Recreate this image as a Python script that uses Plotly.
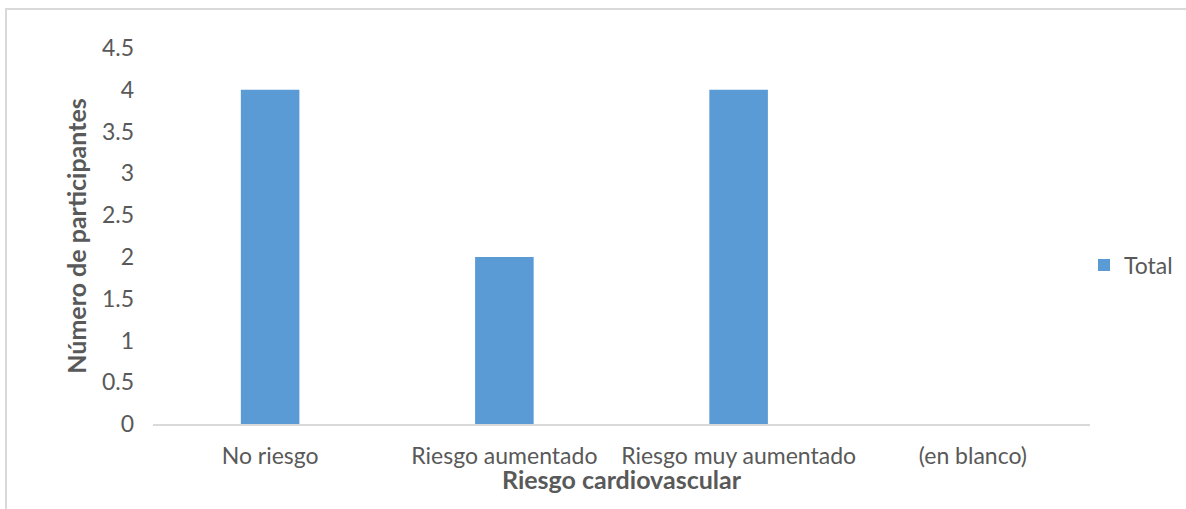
import plotly.graph_objects as go

# Participants per cardiovascular-risk category
categories = ["No riesgo", "Riesgo aumentado", "Riesgo muy aumentado", "(en blanco)"]
totals = [4, 2, 4, None]
y_ticks = [0, 0.5, 1, 1.5, 2, 2.5, 3, 3.5, 4, 4.5]
y_tick_labels = ["0", "0.5", "1", "1.5", "2", "2.5", "3", "3.5", "4", "4.5"]

W, H = 1186, 509
ML, MR, MT, MB = 153, 96, 48, 85
FONT = "Lato"
TXT = "#595959"

fig = go.Figure()
fig.add_trace(go.Bar(
    x=categories,
    y=totals,
    name="Total",
    marker=dict(color="#5B9BD5", line=dict(width=0)),
    showlegend=True,
))

pw = W - ML - MR
ph = H - MT - MB

fig.update_layout(
    width=W,
    height=H,
    margin=dict(l=ML, r=MR, t=MT, b=MB, autoexpand=False),
    paper_bgcolor="white",
    plot_bgcolor="white",
    bargap=0.75,
    font=dict(family=FONT, color=TXT, size=23),
    showlegend=True,
    legend=dict(
        x=(1084 - ML) / pw, y=(424 - 265) / ph,
        xanchor="left", yanchor="middle",
        font=dict(family=FONT, size=23, color=TXT),
        itemwidth=30,
        bgcolor="rgba(0,0,0,0)",
    ),
    xaxis=dict(
        type="category",
        showline=True, linecolor="#D9D9D9", linewidth=2,
        showgrid=False, ticks="",
        ticklabelstandoff=10,
        tickfont=dict(family=FONT, size=23, color=TXT),
    ),
    yaxis=dict(
        range=[0, 4.5],
        tickvals=y_ticks, ticktext=y_tick_labels,
        showgrid=False, zeroline=False, showline=False, ticks="",
        ticklabelstandoff=18,
        tickfont=dict(family=FONT, size=23, color=TXT),
        title=dict(text="<b>Número de participantes</b>",
                   font=dict(family=FONT, size=25, color=TXT), standoff=8),
    ),
    annotations=[dict(
        text="<b>Riesgo cardiovascular</b>",
        xref="paper", yref="paper", x=0.5, y=(424 - 479) / ph,
        xanchor="center", yanchor="middle", showarrow=False,
        font=dict(family=FONT, size=25, color=TXT),
    )],
    shapes=[dict(
        type="rect", xref="paper", yref="paper",
        x0=(6 - ML) / pw, x1=(W + 5 - ML) / pw,
        y0=(H - (H + 5) - MB) / ph, y1=(H - 9 - MB) / ph,
        line=dict(color="#D9D9D9", width=2), fillcolor="rgba(0,0,0,0)",
        layer="below",
    )],
)

fig.write_html("out.html")
